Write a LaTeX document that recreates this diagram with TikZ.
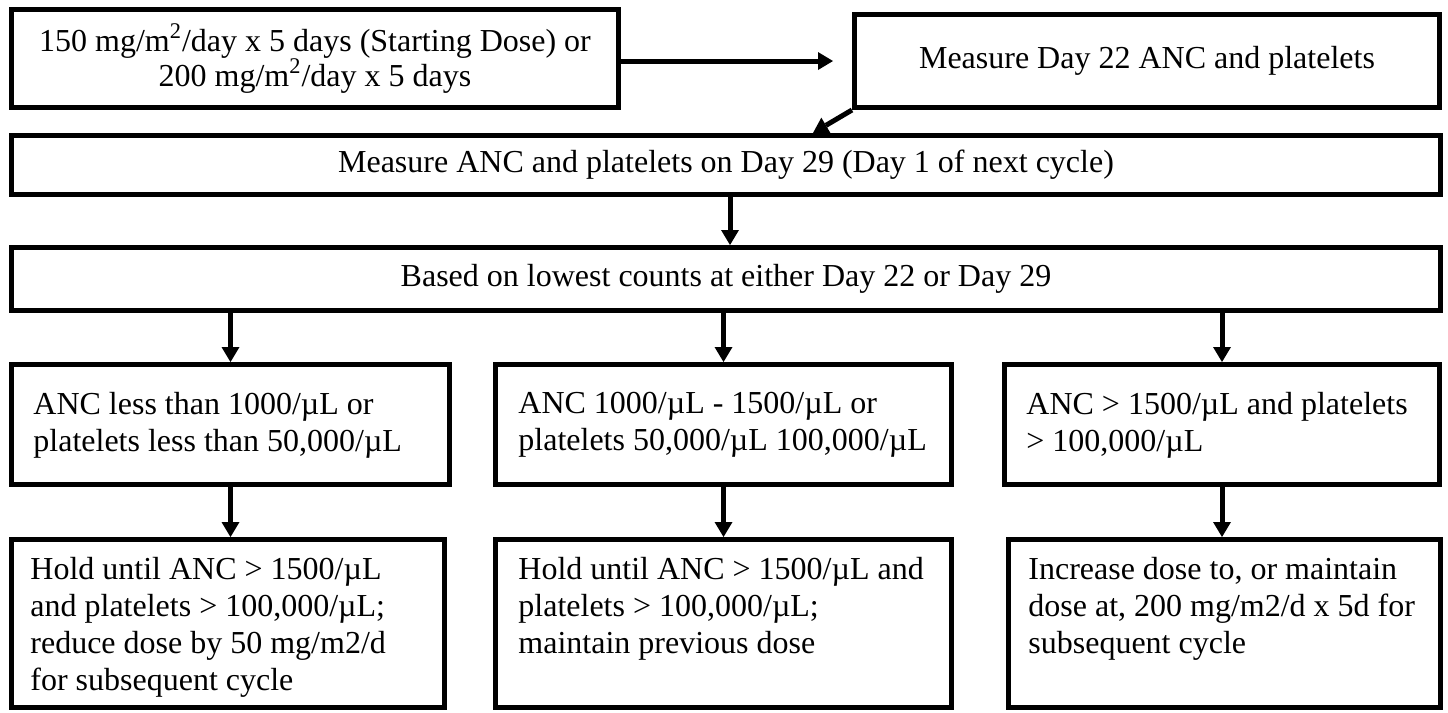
\documentclass[tikz,border=0pt]{standalone}
\usepackage{fontspec}
\setmainfont{Liberation Serif}
\usetikzlibrary{positioning,calc,arrows.meta}

\begin{document}
\begin{tikzpicture}[x=0.5pt,y=-0.5pt]
  \tikzset{BoxStyle/.style = {
    shape         = rectangle,
    draw          = black,
    fill          = white,
    line width    = 2.5pt,
    text          = black,
    align         = center,
    inner sep     = 0pt,
    font          = \fontsize{16}{17.5}\selectfont
    }
  }
  \tikzset{TextStyle/.style = {
    anchor        = north west,
    align         = left,
    inner sep     = 0pt,
    text          = black,
    font          = \fontsize{16}{18.5}\selectfont,
    execute at begin node = \strut
    }
  }
  \tikzset{ArrowStyle/.style = {
    draw          = black,
    line width    = 2.5pt,
    -{Triangle[length=7.5pt, width=9pt, line width=0pt]}
    }
  }
  \useasboundingbox (0,0) rectangle (1448,713);

  \node[BoxStyle, minimum width=303.5pt, minimum height=49pt](Start) at (315, 58.5)
    {150 mg/m\textsuperscript{2}/day x 5 days (Starting Dose) or\\200 mg/m\textsuperscript{2}/day x 5 days};
  \node[BoxStyle, minimum width=292.5pt, minimum height=46.5pt](Day22) at (1147, 61)
    {Measure Day 22 ANC and platelets};
  \node[BoxStyle, minimum width=714.5pt, minimum height=29.5pt](Day29) at (726, 165)
    {Measure ANC and platelets on Day 29 (Day 1 of next cycle)};
  \node[BoxStyle, minimum width=714.5pt, minimum height=31.5pt](Lowest) at (726, 279)
    {Based on lowest counts at either Day 22 or Day 29};

  \node[BoxStyle, minimum width=219pt, minimum height=60pt](Cond1) at (230.5, 424.5) {};
  \node[BoxStyle, minimum width=228pt, minimum height=60pt](Cond2) at (723.5, 424.5) {};
  \node[BoxStyle, minimum width=217.5pt, minimum height=60pt](Cond3) at (1222, 424.5) {};
  \node[BoxStyle, minimum width=216.5pt, minimum height=84pt](Act1) at (228, 623.5) {};
  \node[BoxStyle, minimum width=228pt, minimum height=84pt](Act2) at (723.5, 623.5) {};
  \node[BoxStyle, minimum width=216pt, minimum height=84pt](Act3) at (1224.5, 623.5) {};

  \node[TextStyle](Cond1Text) at ($(Cond1.north west)+(24,30)$)
    {ANC less than 1000/µL or\\platelets less than 50,000/µL};
  \node[TextStyle](Cond2Text) at ($(Cond2.north west)+(25,30)$)
    {ANC 1000/µL - 1500/µL or\\platelets 50,000/µL 100,000/µL};
  \node[TextStyle](Cond3Text) at ($(Cond3.north west)+(24,30)$)
    {ANC > 1500/µL and platelets\\> 100,000/µL};
  \node[TextStyle](Act1Text) at ($(Act1.north west)+(21,20)$)
    {Hold until ANC > 1500/µL\\and platelets > 100,000/µL;\\reduce dose by 50 mg/m2/d\\for subsequent cycle};
  \node[TextStyle](Act2Text) at ($(Act2.north west)+(25,20)$)
    {Hold until ANC > 1500/µL and\\platelets > 100,000/µL;\\maintain previous dose};
  \node[TextStyle](Act3Text) at ($(Act3.north west)+(22,20)$)
    {Increase dose to, or maintain\\dose at, 200 mg/m2/d x 5d for\\subsequent cycle};

  \draw[ArrowStyle, shorten >=9.5pt](Start.east |- Day22.west) -- (Day22.west);
  \draw[ArrowStyle](Day22.south west) -- ($(Day22.south west |- Day29.north)+(-39,0)$);
  \draw[ArrowStyle](Day29.south -| 730,0) -- (Lowest.north -| 730,0);
  \draw[ArrowStyle](Lowest.south -| Cond1.north) -- (Cond1.north);
  \draw[ArrowStyle](Lowest.south -| Cond2.north) -- (Cond2.north);
  \draw[ArrowStyle](Lowest.south -| Cond3.north) -- (Cond3.north);
  \draw[ArrowStyle](Cond1.south) -- (Cond1.south |- Act1.north);
  \draw[ArrowStyle](Cond2.south) -- (Cond2.south |- Act2.north);
  \draw[ArrowStyle](Cond3.south) -- (Cond3.south |- Act3.north);
\end{tikzpicture}
\end{document}
